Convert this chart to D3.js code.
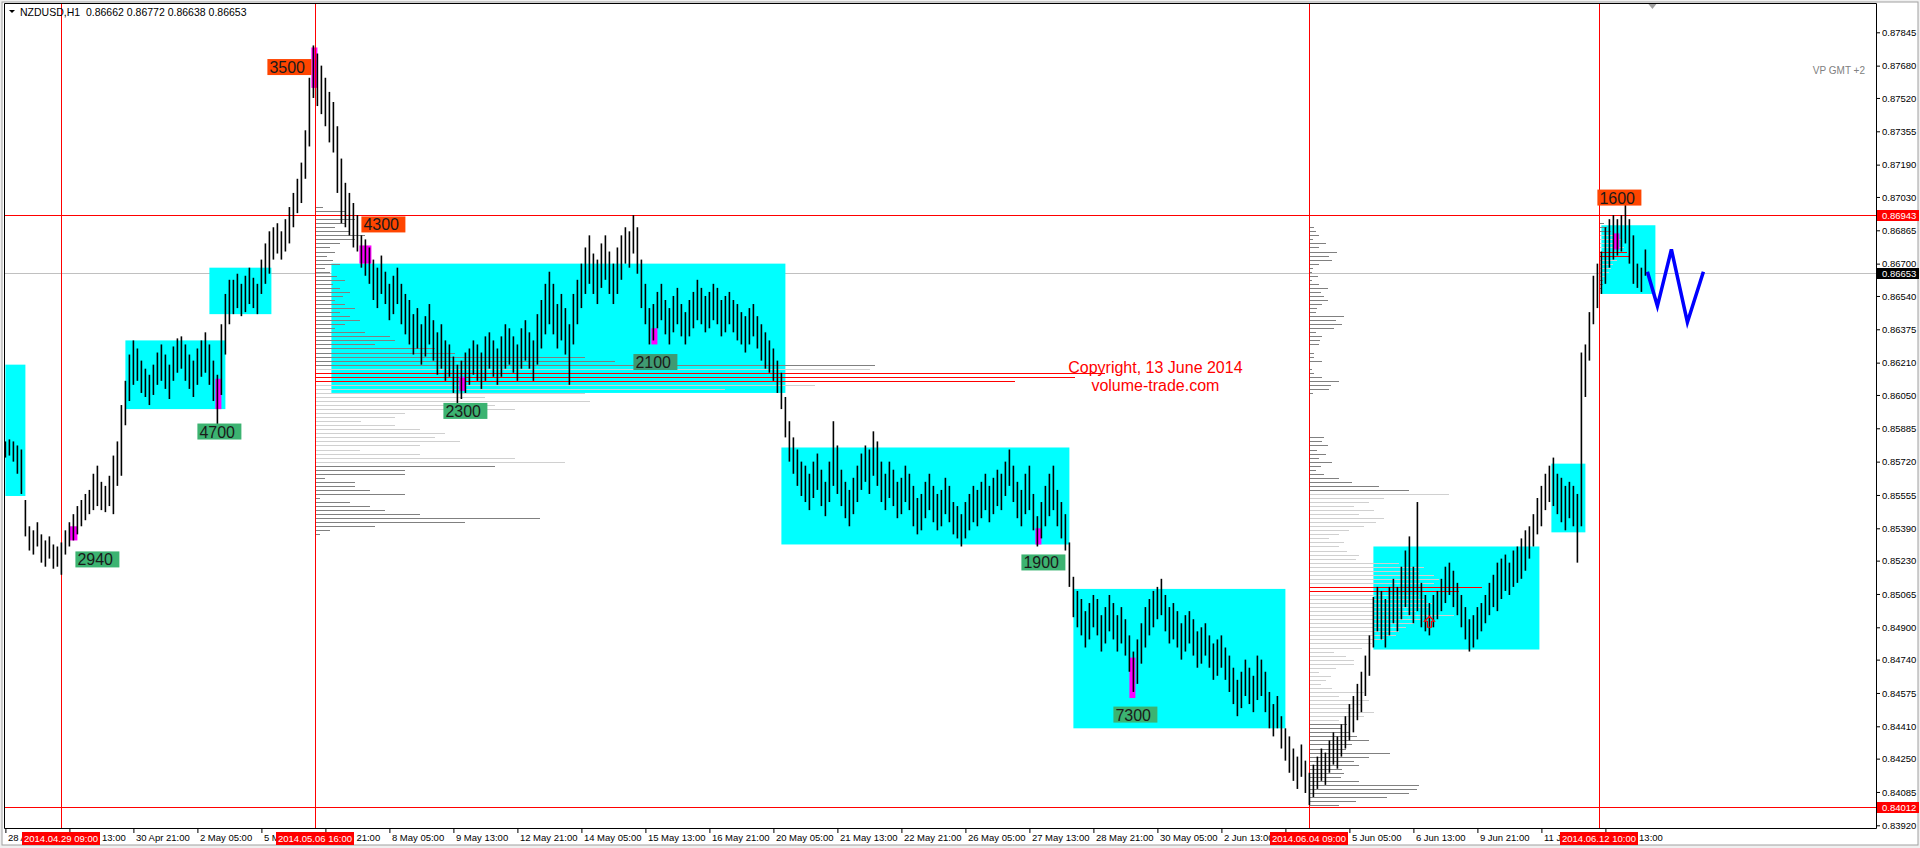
<!DOCTYPE html>
<html>
<head>
<meta charset="utf-8">
<style>
  html, body { margin: 0; padding: 0; background: #f0f0f0; overflow: hidden; }
  svg { display: block; font-family: "Liberation Sans", Arial, sans-serif; }
</style>
</head>
<body>
<script src="https://cdn.jsdelivr.net/npm/d3@7"></script>
<script>
// ---------------- data ----------------
const headerText = "NZDUSD,H1  0.86662 0.86772 0.86638 0.86653";

// time axis labels, one every 32 hourly bars
const timeLabels = ["28 Apr 05:00", "29 Apr 13:00", "30 Apr 21:00", "2 May 05:00", "5 May 13:00",
  "6 May 21:00", "8 May 05:00", "9 May 13:00", "12 May 21:00", "14 May 05:00", "15 May 13:00",
  "16 May 21:00", "20 May 05:00", "21 May 13:00", "22 May 21:00", "26 May 05:00", "27 May 13:00",
  "28 May 21:00", "30 May 05:00", "2 Jun 13:00", "3 Jun 21:00", "5 Jun 05:00", "6 Jun 13:00",
  "9 Jun 21:00", "11 Jun 05:00", "12 Jun 13:00"];

const priceTicks = [0.87845, 0.87680, 0.87520, 0.87355, 0.87190, 0.87030, 0.86865, 0.86700,
  0.86540, 0.86375, 0.86210, 0.86050, 0.85885, 0.85720, 0.85555, 0.85390, 0.85230, 0.85065,
  0.84900, 0.84740, 0.84575, 0.84410, 0.84250, 0.84085, 0.83920];

// vertical event lines (hourly bar index) and their date tags
const eventBars = [28, 155, 652, 797];
const eventLabels = ["2014.04.29 09:00", "2014.05.06 16:00", "2014.06.04 09:00", "2014.06.12 10:00"];
const redLevels = [0.86943, 0.84012];
const bidPrice = 0.86653;

// price bars, one every 2 hours, in pips (x 1e-4)
const barLow = [
  8574,8575,8572,8566,8556,8535,8528,8526,8530,8522, 8520,8524,8519,8520,8516,8526,8530,8533,8536,8540,
  8543,8546,8548,8550,8548,8547,8550,8546,8560,8565, 8590,8602,8610,8612,8606,8604,8600,8605,8610,8612,
  8608,8603,8612,8616,8618,8612,8608,8604,8610,8614, 8616,8610,8602,8590,8605,8625,8640,8645,8648,8644,
  8646,8650,8648,8645,8655,8660,8665,8672,8675,8672, 8676,8680,8688,8695,8700,8712,8728,8752,8748,8744,
  8738,8730,8725,8705,8690,8688,8684,8678,8676,8668, 8664,8660,8652,8648,8655,8650,8642,8645,8650,8640,
  8635,8630,8625,8628,8620,8624,8630,8622,8615,8618, 8612,8614,8606,8600,8603,8606,8610,8615,8612,8608,
  8612,8618,8614,8610,8614,8618,8620,8616,8612,8618, 8622,8618,8612,8620,8628,8635,8640,8635,8628,8632,
  8625,8610,8630,8640,8648,8655,8660,8655,8650,8658, 8662,8655,8650,8655,8662,8670,8668,8675,8665,8648,
  8640,8630,8632,8638,8642,8635,8630,8636,8640,8634, 8630,8634,8638,8642,8640,8636,8638,8642,8640,8634,
  8636,8640,8636,8632,8630,8626,8630,8634,8628,8622, 8618,8616,8612,8606,8598,8584,8572,8566,8560,8555,
  8552,8548,8554,8558,8550,8545,8552,8560,8556,8550, 8544,8540,8546,8552,8558,8562,8556,8565,8560,8552,
  8548,8554,8550,8544,8546,8552,8548,8540,8536,8538, 8544,8548,8542,8538,8540,8546,8542,8536,8534,8530,
  8534,8538,8542,8540,8544,8548,8542,8546,8550,8548, 8555,8560,8552,8544,8540,8546,8548,8538,8530,8534,
  8540,8545,8548,8540,8534,8528,8510,8495,8490,8486, 8480,8484,8490,8486,8478,8482,8488,8484,8478,8482,
  8476,8468,8458,8462,8472,8480,8486,8490,8494,8496, 8488,8482,8484,8480,8474,8478,8482,8476,8470,8472,
  8476,8470,8464,8466,8470,8464,8458,8452,8446,8450, 8456,8452,8448,8454,8456,8448,8440,8436,8440,8430,
  8424,8418,8414,8410,8416,8408,8402,8406,8410,8414, 8412,8418,8422,8420,8426,8430,8434,8438,8444,8448,
  8456,8466,8480,8488,8484,8480,8486,8492,8488,8494, 8500,8496,8492,8498,8490,8488,8486,8490,8494,8498,
  8502,8506,8500,8496,8490,8484,8478,8480,8484,8488, 8492,8496,8500,8498,8504,8508,8506,8510,8512,8514,
  8518,8524,8530,8536,8540,8548,8552,8550,8546,8542, 8538,8544,8540,8522,8540,8604,8622,8640,8648,8655,
  8660,8668,8672,8674,8676,8680,8670,8660,8658,8656, 8664];
const barHigh = [
  8582,8583,8582,8580,8578,8553,8540,8538,8542,8536, 8533,8535,8531,8530,8532,8538,8542,8546,8550,8553,
  8556,8558,8566,8570,8562,8560,8565,8575,8582,8600, 8612,8625,8632,8628,8622,8618,8615,8620,8626,8630,
  8625,8620,8629,8633,8634,8630,8625,8622,8628,8632, 8636,8630,8622,8615,8640,8655,8662,8662,8665,8660,
  8664,8668,8663,8660,8672,8680,8686,8688,8690,8686, 8692,8698,8705,8712,8720,8736,8762,8778,8774,8768,
  8762,8755,8750,8738,8722,8710,8705,8700,8694,8684, 8682,8678,8672,8668,8674,8666,8660,8664,8668,8660,
  8655,8652,8645,8648,8640,8644,8650,8642,8636,8640, 8632,8630,8624,8620,8622,8626,8628,8632,8630,8626,
  8634,8636,8632,8628,8634,8640,8638,8634,8630,8638, 8642,8636,8632,8645,8652,8660,8666,8660,8650,8655,
  8648,8640,8655,8662,8670,8678,8684,8675,8672,8680, 8684,8676,8670,8678,8684,8688,8686,8694,8688,8672,
  8660,8648,8650,8656,8660,8652,8648,8654,8658,8650, 8646,8652,8656,8662,8658,8654,8656,8660,8658,8652,
  8654,8656,8652,8650,8646,8644,8648,8650,8644,8640, 8636,8632,8628,8622,8616,8604,8592,8584,8578,8572,
  8570,8566,8572,8576,8568,8562,8572,8592,8580,8568, 8562,8558,8564,8570,8576,8580,8578,8587,8582,8572,
  8566,8572,8568,8562,8564,8570,8566,8560,8554,8556, 8562,8566,8560,8556,8558,8564,8560,8552,8550,8546,
  8552,8556,8560,8558,8562,8566,8560,8564,8568,8566, 8572,8578,8570,8562,8558,8566,8570,8556,8545,8552,
  8560,8566,8570,8558,8552,8546,8532,8515,8508,8504, 8498,8502,8506,8504,8496,8500,8506,8502,8496,8500,
  8494,8486,8478,8484,8492,8500,8504,8508,8510,8514, 8506,8500,8502,8498,8492,8496,8498,8494,8488,8490,
  8492,8486,8482,8484,8486,8480,8476,8470,8464,8468, 8474,8470,8466,8476,8474,8468,8458,8452,8456,8446,
  8440,8436,8430,8426,8432,8424,8418,8422,8426,8430, 8428,8434,8438,8436,8442,8446,8452,8456,8462,8468,
  8476,8486,8505,8510,8508,8504,8510,8514,8510,8520, 8528,8535,8520,8552,8512,8506,8502,8506,8508,8514,
  8520,8522,8518,8512,8506,8500,8494,8496,8500,8502, 8506,8512,8516,8522,8524,8526,8522,8528,8530,8534,
  8538,8540,8546,8554,8560,8566,8570,8574,8566,8564, 8560,8562,8560,8556,8626,8630,8646,8664,8670,8676,
  8688,8692,8694,8692,8694,8699,8692,8684,8670,8668, 8677];

// consolidation zones (hourly bar index, pips)
const zoneFrom = [0, 60, 102, 163, 388, 534, 684, 773, 798];
const zoneTo = [10, 110, 133, 390, 532, 640, 767, 790, 825];
const zoneTop = [8620, 8632, 8668, 8670, 8579, 8509, 8530, 8571, 8689];
const zoneBottom = [8555, 8598, 8645, 8606, 8531, 8440, 8479, 8537, 8655];

// climax volume bars and their tags
const climaxVolume = [2940, 4700, 3500, 4300, 2300, 2100, 1900, 7300, 1600];
const climaxKind = ["low", "low", "high", "high", "low", "test", "low", "low", "high"];
const climaxBar = [32, 105, 153, 177, 227, 323, 515, 562, 804];
const climaxSpan = [4, 3, 3, 6, 3, 3, 3, 3, 3];
const climaxHigh = [8540, 8613, 8777, 8679, 8614, 8638, 8539, 8475, 8685];
const climaxLow = [8533, 8598, 8757, 8670, 8607, 8630, 8531, 8455, 8677];
const tagBar = [46, 107, 142, 189, 230, 325, 519, 565, 807];
const tagPrice = [8523.6, 8586.9, 8767.3, 8689.4, 8597.1, 8621.3, 8522.1, 8446.8, 8702.7];

// volume profiles, rows every 2 pips from the top price down
const vp1Start = 155, vp1Top = 8698, vp1VA = [8572, 8618];
const vp1Vol = [8,30,45,40,30,20,35,50,40,25, 15,20,12,18,25,10,15,22,30,18,
  25,35,28,20,30,40,25,35,45,30, 20,50,75,80,60,120,140,270,300,560,
  555,790,760,700,500,410,270,170,275,180, 200,90,80,46,80,105,130,120,145,105,
  45,105,200,250,180,90,90,10,40,40, 55,90,5,35,55,70,105,225,150,60, 15,5];
const vp2Start = 652, vp2Top = 8688, vp2VA = [8444, 8556];
const vp2Vol = [5,7,10,4,17,10,28,20,23,10, 4,3,9,3,10,19,12,15,19,13,
  8,7,35,27,33,25,7,13,11,10, 1,5,5,13,1,3,5,13,30,22,
  20,4,0,0,0,0,0,0,0,0, 0,0,15,13,19,8,17,10,23,12,
  7,15,30,43,70,100,140,75,60,45, 65,50,75,67,55,40,30,20,35,30,
  38,50,47,90,115,110,125,130,125,173, 150,110,115,123,120,107,145,113,105,97,
  90,87,75,63,53,25,37,45,45,27, 10,22,17,12,23,55,30,60,52,45,
  65,55,30,38,32,40,48,60,43,37, 81,60,45,50,33,35,32,50,110,108,
  100,78,47,30];
const vp3Start = 797, vp3Top = 8690, vp3VA = [8664, 8684];
const vp3Vol = [5,8,12,15,22,20,25,28,30,18,14,12,10,6,4,4,3];

// projected path
const projBar = [821, 826, 833, 841, 849];
const projPrice = [8666, 8649, 8677, 8641, 8666];

const signalBar = 712, signalPrice = 8493;
const noteLines = ["Copyright, 13 June 2014", "volume-trade.com"];
const noteBar = 575, notePrice = 8619;

// ---------------- chart ----------------
const W = 1920, H = 848;
const pL = 4, pR = 1876, pT = 4, pB = 828;

const svg = d3.select("body").append("svg").attr("width", W).attr("height", H);

const x = d3.scaleLinear().domain([0, 935.3]).range([5.4, 1876]);
const y = d3.scaleLinear().domain([0.83920, 0.87845]).range([825.3, 32.3]);
const pip = v => v / 10000;
const vpLen = d3.scaleLinear().domain([0, 1000]).range([0, 1000]);
const tagColor = { high: "#ff4500", low: "#3cb371", test: "#3f9a72" };

svg.append("rect").attr("x", 2).attr("y", 2).attr("width", W - 4).attr("height", H - 5)
  .attr("fill", "#fff").attr("stroke", "#a0a0a0");

svg.append("clipPath").attr("id", "plot").append("rect")
  .attr("x", pL).attr("y", pT).attr("width", pR - pL).attr("height", pB - pT);

const plot = svg.append("g").attr("clip-path", "url(#plot)");

// bid line
plot.append("line")
  .attr("x1", pL).attr("x2", pR)
  .attr("y1", Math.round(y(bidPrice)) + 0.5).attr("y2", Math.round(y(bidPrice)) + 0.5)
  .attr("stroke", "#c0c0c0");

// zones
plot.selectAll(".zone").data(zoneFrom).join("rect")
  .attr("x", (d, i) => x(d))
  .attr("y", (d, i) => y(pip(zoneTop[i])))
  .attr("width", (d, i) => x(zoneTo[i]) - x(d))
  .attr("height", (d, i) => y(pip(zoneBottom[i])) - y(pip(zoneTop[i])))
  .attr("fill", "#00ffff");

// volume profiles
function profile(start, topPrice, vols, va) {
  const maxV = d3.max(vols);
  const rows = vols.map((v, i) => ({ p: topPrice - 2 * i, v }));
  plot.append("g").selectAll("line").data(rows.filter(r => r.v > 0)).join("line")
    .attr("x1", x(start))
    .attr("x2", d => x(start) + vpLen(d.v))
    .attr("y1", d => Math.round(y(pip(d.p))) + 0.5)
    .attr("y2", d => Math.round(y(pip(d.p))) + 0.5)
    .attr("stroke", d => d.v >= 0.85 * maxV ? "#ff0000"
      : (d.p >= va[0] && d.p <= va[1] ? "#d0d0d0" : "#808080"))
    .attr("shape-rendering", "crispEdges");
}
profile(vp1Start, vp1Top, vp1Vol, vp1VA);
profile(vp2Start, vp2Top, vp2Vol, vp2VA);
profile(vp3Start, vp3Top, vp3Vol, vp3VA);

// climax highlight
plot.selectAll(".climax").data(climaxBar).join("rect")
  .attr("x", d => x(d))
  .attr("y", (d, i) => y(pip(climaxHigh[i])))
  .attr("width", (d, i) => x(d + climaxSpan[i]) - x(d))
  .attr("height", (d, i) => y(pip(climaxLow[i])) - y(pip(climaxHigh[i])))
  .attr("fill", "#ff00ff");

// red levels and event lines
plot.selectAll(".lvl").data(redLevels).join("line")
  .attr("x1", pL).attr("x2", pR)
  .attr("y1", d => Math.round(y(d)) + 0.5).attr("y2", d => Math.round(y(d)) + 0.5)
  .attr("stroke", "#ff0000");
plot.selectAll(".evt").data(eventBars).join("line")
  .attr("x1", d => Math.round(x(d)) + 0.5).attr("x2", d => Math.round(x(d)) + 0.5)
  .attr("y1", pT).attr("y2", pB)
  .attr("stroke", "#ff0000");

// price bars
plot.append("g").selectAll("rect").data(barLow).join("rect")
  .attr("x", (d, i) => x(2 * i) - 0.8)
  .attr("width", 1.6)
  .attr("y", (d, i) => y(pip(barHigh[i])))
  .attr("height", (d, i) => y(pip(d)) - y(pip(barHigh[i])))
  .attr("fill", "#000");

// signal arrow
const sx = x(signalBar), sy = y(pip(signalPrice));
plot.append("path")
  .attr("d", `M${sx},${sy - 5} L${sx + 5},${sy} L${sx + 2},${sy} L${sx + 2},${sy + 6} L${sx - 2},${sy + 6} L${sx - 2},${sy} L${sx - 5},${sy} Z`)
  .attr("fill", "none").attr("stroke", "#ff0000").attr("stroke-width", 1.2);

// climax tags
const tags = plot.selectAll(".tag").data(climaxVolume).join("g")
  .attr("transform", (d, i) => `translate(${x(tagBar[i]) - 22},${y(pip(tagPrice[i])) - 8})`);
tags.append("rect").attr("width", 44).attr("height", 16)
  .attr("fill", (d, i) => tagColor[climaxKind[i]]);
tags.append("text").attr("x", 2).attr("y", 14)
  .attr("font-size", 16).attr("fill", "#1a1a1a").text(d => d);

// projection
plot.append("path")
  .datum(projBar.map((b, i) => [x(b), y(pip(projPrice[i]))]))
  .attr("d", d3.line())
  .attr("fill", "none").attr("stroke", "#0000ff").attr("stroke-width", 3.5);

// note
plot.append("g").selectAll("text").data(noteLines).join("text")
  .attr("x", x(noteBar)).attr("y", (d, i) => y(pip(notePrice)) + 6 + i * 18)
  .attr("text-anchor", "middle").attr("font-size", 16).attr("fill", "#ff0000")
  .text(d => d);

// ---------------- axes ----------------
const yAxis = svg.append("g").attr("transform", `translate(${pR},0)`)
  .call(d3.axisRight(y).tickValues(priceTicks).tickSize(4).tickPadding(2).tickFormat(d3.format(".5f")));
yAxis.select(".domain").remove();
yAxis.selectAll("text").attr("font-size", 9.5).attr("fill", "#000")
  .attr("font-family", "'Liberation Sans', Arial, sans-serif");
yAxis.selectAll("line").attr("stroke", "#000");

const xAxis = svg.append("g").attr("transform", `translate(0,${pB})`)
  .call(d3.axisBottom(x).tickValues(timeLabels.map((d, i) => i * 32)).tickSize(5).tickPadding(1)
    .tickFormat((d, i) => timeLabels[i]));
xAxis.select(".domain").remove();
xAxis.selectAll("text").attr("text-anchor", "start").attr("x", 2)
  .attr("font-size", 9.5).attr("fill", "#000")
  .attr("font-family", "'Liberation Sans', Arial, sans-serif");
xAxis.selectAll("line").attr("stroke", "#000");

// frame
svg.append("path")
  .attr("d", `M${pL + 0.5},${pT - 0.5} V${pB + 0.5} H${pR + 0.5} V${pT - 0.5} H${pL + 0.5}`)
  .attr("fill", "none").attr("stroke", "#000");

// event date tags
const evt = svg.selectAll(".evtTag").data(eventBars).join("g")
  .attr("transform", d => `translate(${Math.round(x(d)) - 39},832)`);
evt.append("rect").attr("width", 78).attr("height", 13).attr("fill", "#ff0000");
evt.append("text").attr("x", 39).attr("y", 10).attr("text-anchor", "middle")
  .attr("font-size", 9.5).attr("fill", "#fff").text((d, i) => eventLabels[i]);

// price tags on the right axis
const priceTags = redLevels.map(p => ({ p, c: "#ff0000" })).concat([{ p: bidPrice, c: "#000" }]);
const pt = svg.selectAll(".pTag").data(priceTags).join("g")
  .attr("transform", d => `translate(${pR + 1},${Math.round(y(d.p)) - 5})`);
pt.append("rect").attr("width", 42).attr("height", 11).attr("fill", d => d.c);
pt.append("text").attr("x", 5).attr("y", 9).attr("font-size", 9.5).attr("fill", "#fff")
  .text(d => d3.format(".5f")(d.p));

// header
svg.append("path").attr("d", "M9,10 L15,10 L12,13 Z").attr("fill", "#000");
svg.append("text").attr("x", 20).attr("y", 15.5).attr("font-size", 10.5).attr("fill", "#000")
  .style("white-space", "pre").text(headerText);
svg.append("text").attr("x", 1865).attr("y", 74).attr("text-anchor", "end")
  .attr("font-size", 10).attr("fill", "#808080").text("VP GMT +2");

// chart shift marker
const mx = x(2 * (barLow.length - 1)) + 7;
svg.append("path").attr("d", `M${mx - 4},4 L${mx + 4},4 L${mx},9 Z`).attr("fill", "#a0a0a0");
</script>
</body>
</html>
